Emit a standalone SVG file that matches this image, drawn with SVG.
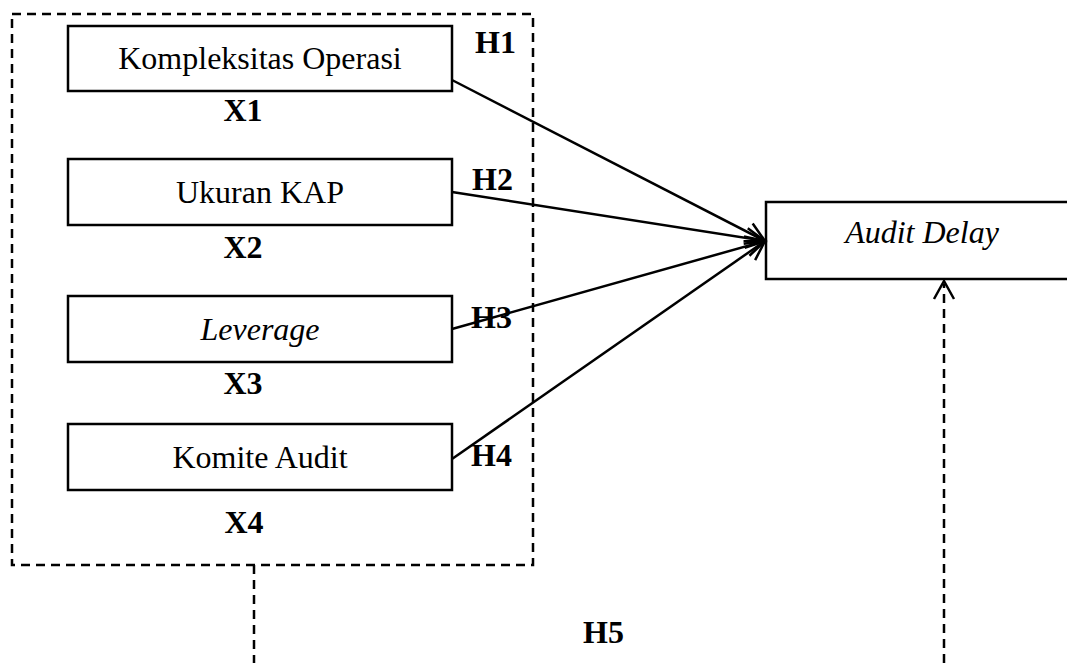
<svg xmlns="http://www.w3.org/2000/svg" width="1067" height="663" viewBox="0 0 1067 663">
  <style>
    .box { fill: #ffffff; stroke: #000000; stroke-width: 2.5; }
    .group { fill: none; stroke: #000000; stroke-width: 2.5; stroke-dasharray: 9 6; }
    .label { font-family: "Liberation Serif", "Times New Roman", serif; font-size: 32px; fill: #000000; text-anchor: middle; }
    .it { font-style: italic; }
    .tag { font-family: "Liberation Serif", "Times New Roman", serif; font-size: 32px; font-weight: bold; fill: #000000; }
    .edge { fill: none; stroke: #000000; stroke-width: 2.5; marker-end: url(#open); }
    .edge-dash { fill: none; stroke: #000000; stroke-width: 2.5; stroke-dasharray: 9 6; }
  </style>
  <defs>
    <marker id="open" markerUnits="userSpaceOnUse" markerWidth="26" markerHeight="26" viewBox="-22 -13 26 26" refX="0" refY="0" orient="auto">
      <path d="M -19 -10 L 0 0 L -19 10" fill="none" stroke="#000000" stroke-width="2.5"/>
    </marker>
  </defs>
  <rect width="1067" height="663" fill="#ffffff"/>

  <!-- dashed grouping of the independent variables -->
  <g id="group-x">
    <rect class="group" x="12" y="14" width="521" height="551"/>
  </g>

  <g id="x1">
    <rect class="box" x="68" y="26" width="384" height="65"/>
    <text class="label" x="260" y="69">Kompleksitas Operasi</text>
    <text class="tag" x="243" y="121" text-anchor="middle">X1</text>
  </g>
  <g id="x2">
    <rect class="box" x="68" y="159" width="384" height="66"/>
    <text class="label" x="260" y="203">Ukuran KAP</text>
    <text class="tag" x="243" y="258" text-anchor="middle">X2</text>
  </g>
  <g id="x3">
    <rect class="box" x="68" y="296" width="384" height="66"/>
    <text class="label it" x="260" y="340">Leverage</text>
    <text class="tag" x="243" y="394" text-anchor="middle">X3</text>
  </g>
  <g id="x4">
    <rect class="box" x="68" y="424" width="384" height="66"/>
    <text class="label" x="260" y="468">Komite Audit</text>
    <text class="tag" x="244" y="533" text-anchor="middle">X4</text>
  </g>

  <g id="y">
    <rect class="box" x="766" y="202" width="310" height="77"/>
    <text class="label it" x="922" y="243">Audit Delay</text>
  </g>

  <g id="connectors">
    <line class="edge" x1="452" y1="80" x2="765" y2="241"/>
    <line class="edge" x1="452" y1="192" x2="765" y2="241"/>
    <line class="edge" x1="452" y1="329" x2="765" y2="241"/>
    <line class="edge" x1="452" y1="459" x2="765" y2="241"/>
    <line class="edge-dash" x1="254" y1="565" x2="254" y2="663"/>
    <line class="edge-dash" x1="944" y1="663" x2="944" y2="284"/>
    <path d="M 934 299 L 944 281 L 954 299" fill="none" stroke="#000000" stroke-width="2.5"/>
  </g>

  <g id="hypotheses">
    <text class="tag" x="475" y="53">H1</text>
    <text class="tag" x="472" y="190">H2</text>
    <text class="tag" x="471" y="328">H3</text>
    <text class="tag" x="471" y="466">H4</text>
    <text class="tag" x="583" y="643">H5</text>
  </g>
</svg>
